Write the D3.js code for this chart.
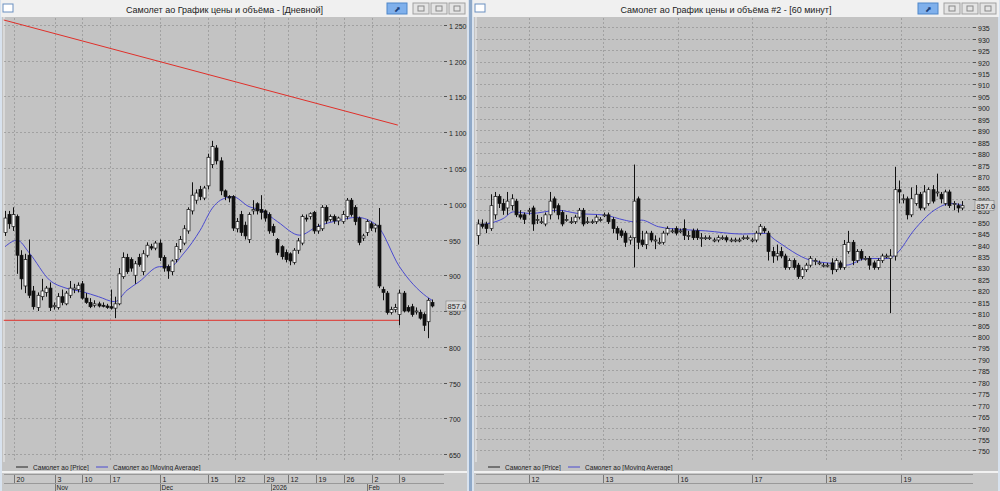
<!DOCTYPE html>
<html><head><meta charset="utf-8">
<script src="https://cdn.jsdelivr.net/npm/d3@7"></script>
<style>body{margin:0;background:#c9d7e6;overflow:hidden}svg{display:block;font-family:"Liberation Sans",Arial,sans-serif}</style>
</head><body><svg id="c" width="1000" height="491"></svg>
<script>
// ---------- DATA ----------
const leftTitle = "Самолет ао График цены и объёма - [Дневной]";
const rightTitle = "Самолет ао График цены и объёма #2 - [60 минут]";
const legendPrice = "Самолет ао [Price]";
const legendMA = "Самолет ао [Moving Average]";
// daily candles [open, high, low, close]
const leftOHLC = [
[960,990,955,980],[985,990,965,972],[968,995,962,985],[982,985,902,928],[928,935,880,895],[885,930,875,922],[928,950,868,872],[878,885,852,856],[855,876,850,872],[870,895,865,878],
[876,885,870,882],[882,890,850,855],[856,862,852,858],[855,875,852,870],[870,880,858,862],[860,878,858,875],[872,892,868,882],[880,888,875,882],[880,890,876,886],[888,892,866,868],
[868,875,860,862],[862,868,854,856],[858,865,855,860],[860,863,855,857],[858,862,855,857],[857,860,853,855],[856,880,852,854],[854,870,840,860],[860,910,858,902],[898,932,895,925],
[925,930,902,905],[922,925,905,910],[900,920,888,916],[925,930,912,915],[905,935,900,930],[928,946,925,942],[940,944,935,938],[938,948,935,945],[945,950,920,925],[925,928,905,910],
[912,915,895,906],[905,922,900,920],[922,945,918,940],[936,955,932,950],[945,970,942,965],[962,995,958,992],[990,1030,985,1012],[1005,1020,1000,1015],[1020,1025,1005,1010],[1008,1025,1005,1022],
[1025,1070,1020,1065],[1055,1088,1050,1080],[1078,1082,1055,1060],[1060,1065,1012,1018],[1018,1020,1005,1010],[1010,1012,1002,1008],[1010,1012,962,966],[965,980,960,975],[985,990,955,960],[970,975,950,955],
[950,988,945,985],[990,1005,985,992],[1000,1002,985,990],[992,1012,978,988],[990,992,975,980],[985,988,958,962],[968,972,955,960],[950,952,928,932],[940,942,922,926],[932,936,918,922],
[930,932,914,920],[918,938,915,935],[935,952,930,948],[945,985,942,982],[980,985,975,979],[982,988,978,986],[988,990,958,962],[962,972,958,968],[965,998,962,995],[995,998,972,976],
[978,985,975,982],[982,985,972,976],[976,982,970,980],[975,990,972,985],[982,1008,978,1005],[1005,1008,982,985],[995,998,970,975],[980,982,942,946],[952,958,948,955],[960,978,955,975],
[972,975,962,966],[966,972,960,970],[970,994,882,885],[880,884,865,876],[875,878,845,848],[848,856,845,852],[852,860,848,855],[845,880,830,875],[875,878,848,850],[855,858,848,850],
[856,860,842,845],[850,855,845,850],[848,852,838,840],[845,848,822,830],[835,868,812,865],[862,866,855,857]];
// moving average readings [candle index, value]
const leftMA = [[0,940],[3,949],[6,931],[11,893],[15,882],[19,877],[23,870],[27,863],[30,879],[33,891],[38,912],[40.5,912],[44,931],[48,963],[51,994],[53,1005],[56,1010],[60,996],[63,991],[67,975],[72.5,956],[76.7,968],[82.3,977],[86.5,981],[91.4,970],[97,912],[103.7,870],[105,865]];
const leftTrend = [[-0.3,1257],[96.6,1110]];
const leftSupport = [[-0.3,837],[97,837]];
const leftYTicks = [650,700,750,800,850,900,950,1000,1050,1100,1150,1200,1250];
const leftDayLabels = ["20","3","10","17","1","15","22","29","12","19","26","2","9"];
const leftDayIdx = [2.2,12.3,18.9,25.8,38,49.9,56.5,63.6,69.5,76.4,83.3,90.2,97];
const leftMonthLabels = ["Nov","Dec","2026","Feb"];
const leftMonthIdx = [12.3,38,65.5,89];
const leftLast = 857.0;

const rightOHLC = [
[844,851,840,849],[849,851,847,848],[849,850,845,847],[847,862,846,857],[853,863,851,861],[861,862,856,858],[858,860,853,855],[856,863,853,859],[857,862,855,860],[859,860,852,853],
[853,855,851,852],[853,854,849,851],[855,856,853,855],[856,857,846,849],[851,853,849,851],[850,852,849,850],[849,854,848,853],[853,863,851,859],[860,861,854,856],[857,858,851,853],
[854,855,848,849],[851,853,850,851],[850,852,849,850],[850,853,849,852],[852,856,851,855],[855,856,848,849],[850,852,849,850],[850,851,849,850],[850,853,849,852],[851,852,850,851],
[853,854,852,853],[853,854,849,850],[851,852,845,847],[847,848,842,845],[846,847,843,844],[845,846,839,841],[842,844,840,843],[843,875,830,859],[860,861,838,841],[842,846,839,840],
[840,846,838,845],[845,846,841,842],[842,844,838,842],[841,843,840,841],[841,846,840,845],[845,848,844,847],[846,847,845,846],[847,848,844,845],[846,847,845,846],[847,851,842,844],
[844,846,842,844],[846,847,842,843],[846,847,842,843],[843,845,839,843],[843,844,842,843],[843,844,842,843],[842,843,841,842],[842,844,841,843],[843,844,842,843],[843,844,841,842],
[842,843,841,842],[842,843,841,842],[842,843,841,842],[843,844,842,843],[843,844,842,843],[842,843,841,842],[842,846,841,845],[845,849,844,848],[847,848,845,846],[845,846,833,837],
[837,839,832,835],[835,840,833,836],[837,839,834,835],[835,836,829,830],[830,834,829,833],[833,834,829,830],[831,832,825,826],[826,830,825,829],[829,832,828,831],[831,835,830,834],
[833,834,831,833],[832,833,831,832],[831,832,830,831],[831,832,830,831],[832,834,827,829],[829,834,828,833],[832,833,829,830],[830,842,829,840],[837,846,836,841],[841,842,831,833],
[833,838,832,837],[837,838,833,834],[834,835,833,834],[834,835,829,831],[832,833,829,830],[830,834,829,833],[833,836,832,835],[835,836,834,835],[834,838,810,835],[835,874,833,864],
[864,868,858,863],[860,862,858,860],[860,861,851,853],[853,865,852,860],[858,866,857,862],[862,863,855,856],[856,866,855,863],[858,865,857,864],[864,866,858,859],[863,871,861,863],
[862,863,858,860],[858,864,857,863],[863,864,856,857],[858,859,855,858],[857,858,854,856],[856,859,855,857]];
const rightMA = [[0,848.5],[6,851.4],[8.4,854.3],[12.5,853.6],[19,855],[23.7,853.6],[30,852.9],[34.8,850.7],[36.9,850],[38.8,850.7],[42.9,847.8],[48.4,846.6],[54,846],[62.8,844.6],[68.3,844.9],[70.7,841.9],[78.9,833.2],[84.4,831.7],[87.5,831],[92.3,833.9],[97.5,833.9],[99.5,836.1],[103.6,846.3],[108.4,855],[112.5,858],[115,857.2]];
const rightYTicks = d3.range(750, 936, 5);
const rightDayLabels = ["12","13","16","17","18","19"];
const rightDayIdx = [12,29.7,47.5,65.2,82.7,100.5];
const rightLast = 857.0;

// ---------- DRAW ----------
const svg = d3.select("#c");
const GRID = "#8a8a8a", BG = "#c3c3c3";

function panel(o){
  const g = svg.append("g");
  // window frame
  g.append("rect").attr("x",o.wx).attr("y",0).attr("width",o.ww).attr("height",491).attr("fill","#d8e2ee");
  // title bar
  g.append("rect").attr("x",o.wx+1).attr("y",0).attr("width",o.ww-2).attr("height",17).attr("fill","#f0f0f0");
  g.append("rect").attr("x",o.wx+3).attr("y",4).attr("width",10).attr("height",8).attr("fill","#fff").attr("stroke","#6a8fc0");
  g.append("text").attr("x",o.wx+o.ww/2-10).attr("y",12.5).attr("text-anchor","middle").attr("font-size",9).attr("fill","#222").text(o.title);
  const bx = o.wx+o.ww-82;
  g.append("rect").attr("x",bx).attr("y",3).attr("width",20).attr("height",11).attr("fill","#7fb0ec").attr("stroke","#4f86c8");
  g.append("text").attr("x",bx+10).attr("y",12).attr("text-anchor","middle").attr("font-size",8).attr("fill","#1c3f7a").text("⬈");
  [26,44,62].forEach(d=>{
    g.append("rect").attr("x",bx+d).attr("y",3).attr("width",16).attr("height",11).attr("fill","#e4e4e4").attr("stroke","#a0a0a0");
    g.append("rect").attr("x",bx+d+5).attr("y",6).attr("width",6).attr("height",5).attr("fill","none").attr("stroke","#888");
  });
  // plot area
  const P = o.plot;
  g.append("rect").attr("x",o.wx+2).attr("y",17).attr("width",o.ww-4).attr("height",454).attr("fill",BG);
  g.append("line").attr("x1",P.x0).attr("x2",P.x0).attr("y1",17).attr("y2",462).attr("stroke","#eee");
  const y = d3.scaleLinear().domain(o.ydom).range(o.yrange);
  const x = d3.scaleLinear().domain([0,o.ohlc.length-1]).range(o.xrange);
  // horizontal grid + y labels
  o.yticks.forEach(v=>{
    const yy = Math.round(y(v))+0.5;
    g.append("line").attr("x1",P.x0).attr("x2",P.x1).attr("y1",yy).attr("y2",yy).attr("stroke",GRID).attr("stroke-width",0.6).attr("stroke-dasharray","2,2");
    g.append("line").attr("x1",P.x1).attr("x2",P.x1+3).attr("y1",yy).attr("y2",yy).attr("stroke","#555");
    g.append("text").attr("x",P.x1+5).attr("y",yy+3).attr("font-size",7).attr("fill","#222").text(d3.format(",")(v).replace(","," "));
  });
  // vertical grid
  o.dayIdx.forEach(i=>{
    const xx = Math.round(x(i))+0.5;
    g.append("line").attr("x1",xx).attr("x2",xx).attr("y1",18).attr("y2",462).attr("stroke",GRID).attr("stroke-width",0.6).attr("stroke-dasharray","2,2");
  });
  // extra lines
  (o.redLines||[]).forEach(L=>{
    g.append("line").attr("x1",x(L[0][0])).attr("y1",y(L[0][1])).attr("x2",x(L[1][0])).attr("y2",y(L[1][1])).attr("stroke","#e0302a").attr("stroke-width",1);
  });
  // MA
  g.append("path").datum(o.ma).attr("fill","none").attr("stroke","#4a4ad0").attr("stroke-width",1)
    .attr("d",d3.line().x(d=>x(d[0])).y(d=>y(d[1])).curve(d3.curveMonotoneX));
  // candles
  const bw = 3;
  o.ohlc.forEach((d,i)=>{
    const cx = Math.round(x(i))+0.5;
    g.append("line").attr("x1",cx).attr("x2",cx).attr("y1",y(d[1])).attr("y2",y(d[2])).attr("stroke","#111").attr("stroke-width",1);
    const top = y(Math.max(d[0],d[3])), bot = y(Math.min(d[0],d[3]));
    g.append("rect").attr("x",cx-bw/2).attr("y",top).attr("width",bw).attr("height",Math.max(1,bot-top))
      .attr("fill",d[3]>=d[0]?"#fff":"#111").attr("stroke","#111").attr("stroke-width",0.7);
  });
  // last price label
  const ly = y(o.last);
  g.append("rect").attr("x",P.x1+2).attr("y",ly-5).attr("width",19).attr("height",10).attr("fill","#d8d8d8").attr("stroke","#777").attr("stroke-width",0.5);
  g.append("text").attr("x",P.x1+3.5).attr("y",ly+3).attr("font-size",7.5).attr("fill","#222").text(d3.format(".1f")(o.last));
  // legend
  g.append("line").attr("x1",P.x0+12).attr("x2",P.x0+24).attr("y1",467).attr("y2",467).attr("stroke","#222");
  g.append("text").attr("x",P.x0+29).attr("y",469.5).attr("font-size",6.5).attr("fill","#222").text(legendPrice);
  g.append("line").attr("x1",P.x0+92).attr("x2",P.x0+104).attr("y1",467).attr("y2",467).attr("stroke","#4a4ad0");
  g.append("text").attr("x",P.x0+109).attr("y",469.5).attr("font-size",6.5).attr("fill","#222").text(legendMA);
  // date rows
  g.append("rect").attr("x",o.wx+2).attr("y",471).attr("width",o.ww-4).attr("height",20).attr("fill","#c8c8c8");
  g.append("line").attr("x1",o.wx+2).attr("x2",o.wx+o.ww-2).attr("y1",472).attr("y2",472).attr("stroke","#fff").attr("stroke-width",1.5);
  g.append("line").attr("x1",P.x0).attr("x2",P.x1).attr("y1",474.5).attr("y2",474.5).attr("stroke","#999");
  g.append("line").attr("x1",P.x0).attr("x2",P.x1).attr("y1",483.5).attr("y2",483.5).attr("stroke","#999");
  o.dayIdx.forEach((i,k)=>{
    const xx = Math.round(x(i))+0.5;
    g.append("line").attr("x1",xx).attr("x2",xx).attr("y1",475).attr("y2",483).attr("stroke","#777");
    g.append("text").attr("x",xx+2).attr("y",481.5).attr("font-size",7).attr("fill","#222").text(o.dayLabels[k]);
  });
  (o.monthIdx||[]).forEach((i,k)=>{
    const xx = Math.round(x(i))+0.5;
    g.append("line").attr("x1",xx).attr("x2",xx).attr("y1",484).attr("y2",491).attr("stroke","#777");
    g.append("text").attr("x",xx+1).attr("y",490).attr("font-size",6.5).attr("fill","#222").text(o.monthLabels[k]);
  });
}

panel({wx:0,ww:469,title:leftTitle,plot:{x0:4,x1:444},ydom:[650,1250],yrange:[454,25],xrange:[5,432],
  ohlc:leftOHLC,ma:leftMA,yticks:leftYTicks,dayIdx:leftDayIdx,dayLabels:leftDayLabels,monthIdx:leftMonthIdx,monthLabels:leftMonthLabels,
  redLines:[leftTrend,leftSupport],last:leftLast});
panel({wx:472,ww:528,title:rightTitle,plot:{x0:476,x1:973},ydom:[750,935],yrange:[450.4,27.3],xrange:[478,962],
  ohlc:rightOHLC,ma:rightMA,yticks:rightYTicks,dayIdx:rightDayIdx,dayLabels:rightDayLabels,last:rightLast});
// gap between windows
svg.append("rect").attr("x",469).attr("y",0).attr("width",3).attr("height",491).attr("fill","#8fa9c8");
</script></body></html>
